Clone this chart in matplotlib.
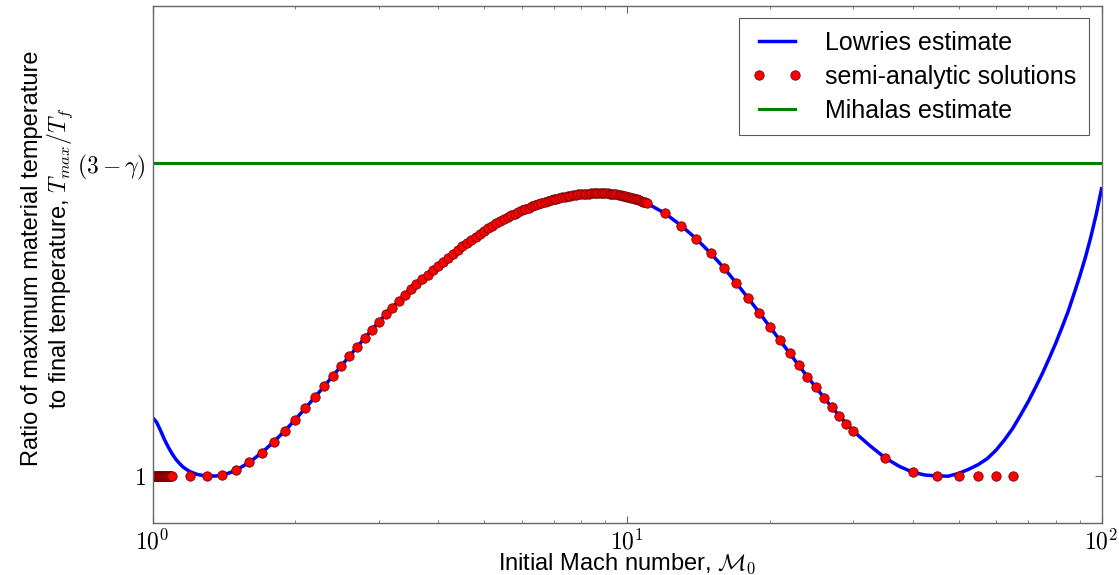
import matplotlib
matplotlib.use('Agg')
import matplotlib.pyplot as plt
from matplotlib.ticker import FixedLocator, FixedFormatter, LogLocator, NullFormatter

plt.rcParams['font.family'] = ['Liberation Sans', 'DejaVu Sans']
plt.rcParams['mathtext.fontset'] = 'cm'

gamma = 5.0 / 3.0

# Lowrie estimate of T_max / T_f against initial Mach number
mach_lowrie = [1.0, 1.02, 1.04, 1.06, 1.08, 1.10, 1.12, 1.14, 1.16, 1.18,
               1.20, 1.24, 1.28, 1.32, 1.36, 1.40, 1.45, 1.5, 1.6, 1.7,
               1.8, 1.9, 2.0, 2.2, 2.4, 2.6, 2.8, 3.0, 3.25, 3.5,
               3.75, 4.0, 4.5, 5.0, 5.5, 6.0, 6.5, 7.0, 7.5, 8.0,
               8.5, 9.0, 9.5, 10.0, 10.5, 11.0, 12, 13, 14, 15,
               16, 17, 18, 19, 20, 21, 22, 23, 24, 25,
               26, 27, 28, 29, 30, 32.5, 35, 37.5, 40, 42.5,
               45, 47.5, 50, 52.5, 55, 57.5, 60, 62.5, 65, 67.5,
               70, 72.5, 75, 77.5, 80, 82.5, 85, 87.5, 90, 92.5,
               95, 97.5, 100]
temp_lowrie = [1.0625, 1.0575, 1.0485, 1.0389, 1.0308, 1.0239, 1.0180, 1.0136, 1.0098, 1.0072,
               1.0049, 1.0021, 1.0007, 1.0002, 1.0003, 1.0014, 1.0035, 1.0065, 1.0148, 1.0252,
               1.0365, 1.0483, 1.0603, 1.0842, 1.1068, 1.1278, 1.1470, 1.1645, 1.1829, 1.1986,
               1.2121, 1.2237, 1.2445, 1.2609, 1.2734, 1.2827, 1.2896, 1.2945, 1.2979, 1.2999,
               1.3009, 1.3009, 1.2997, 1.2974, 1.2943, 1.2904, 1.2798, 1.2666, 1.2524, 1.2372,
               1.2216, 1.2053, 1.1894, 1.1740, 1.1588, 1.1447, 1.1309, 1.1181, 1.1056, 1.0947,
               1.0837, 1.0734, 1.0645, 1.0560, 1.0479, 1.0325, 1.0195, 1.0105, 1.0043, 1.0013,
               1.0004, 1.0001, 1.0030, 1.0075, 1.0125, 1.0190, 1.0280, 1.0390, 1.0510, 1.0650,
               1.0790, 1.0940, 1.1090, 1.1250, 1.1410, 1.1580, 1.1750, 1.1940, 1.2130, 1.2330,
               1.2550, 1.2790, 1.3056]

# semi-analytic solutions
mach_semi = [1.000, 1.005, 1.010, 1.015, 1.020, 1.025, 1.030, 1.035, 1.040, 1.045,
             1.050, 1.055, 1.060, 1.065, 1.070, 1.075, 1.080, 1.085, 1.090, 1.095,
             1.100,
             1.2, 1.3, 1.4, 1.5, 1.6, 1.7, 1.8, 1.9, 2.0, 2.1,
             2.2, 2.3, 2.4, 2.5, 2.6, 2.7, 2.8, 2.9, 3.0, 3.1,
             3.2, 3.3, 3.4, 3.5, 3.6, 3.7, 3.8, 3.9, 4.0, 4.1,
             4.2, 4.3, 4.4, 4.5, 4.6, 4.7, 4.8, 4.9, 5.0, 5.1,
             5.2, 5.3, 5.4, 5.5, 5.6, 5.7, 5.8, 5.9, 6.0, 6.1,
             6.2, 6.3, 6.4, 6.5, 6.6, 6.7, 6.8, 6.9, 7.0, 7.1,
             7.2, 7.3, 7.4, 7.5, 7.6, 7.7, 7.8, 7.9, 8.0, 8.1,
             8.2, 8.3, 8.4, 8.5, 8.6, 8.7, 8.8, 8.9, 9.0, 9.1,
             9.2, 9.3, 9.4, 9.5, 9.6, 9.7, 9.8, 9.9, 10.0, 10.1,
             10.2, 10.3, 10.4, 10.5, 10.6, 10.7, 10.8, 10.9, 11.0,
             12, 13, 14, 15, 16, 17, 18, 19, 20, 21,
             22, 23, 24, 25, 26, 27, 28, 29, 30,
             35, 40, 45, 50, 55, 60, 65]
temp_semi = [1.0, 1.0, 1.0, 1.0, 1.0, 1.0, 1.0, 1.0, 1.0, 1.0,
             1.0, 1.0, 1.0, 1.0, 1.0, 1.0, 1.0, 1.0, 1.0, 1.0,
             1.0,
             1.0000, 1.0004, 1.0015, 1.0065, 1.0148, 1.0252, 1.0365, 1.0483, 1.0603, 1.0724,
             1.0842, 1.0957, 1.1068, 1.1175, 1.1278, 1.1376, 1.1470, 1.1560, 1.1645, 1.1722,
             1.1794, 1.1862, 1.1926, 1.1986, 1.2042, 1.2095, 1.2145, 1.2192, 1.2237, 1.2281,
             1.2324, 1.2365, 1.2406, 1.2445, 1.2482, 1.2516, 1.2549, 1.2580, 1.2609, 1.2637,
             1.2663, 1.2688, 1.2712, 1.2734, 1.2755, 1.2774, 1.2793, 1.2811, 1.2827, 1.2843,
             1.2857, 1.2871, 1.2884, 1.2896, 1.2907, 1.2918, 1.2928, 1.2937, 1.2945, 1.2953,
             1.2961, 1.2967, 1.2973, 1.2979, 1.2984, 1.2989, 1.2993, 1.2996, 1.2999, 1.3002,
             1.3004, 1.3006, 1.3008, 1.3009, 1.3009, 1.3010, 1.3010, 1.3010, 1.3009, 1.3007,
             1.3005, 1.3003, 1.3000, 1.2997, 1.2993, 1.2989, 1.2984, 1.2980, 1.2974, 1.2969,
             1.2963, 1.2956, 1.2950, 1.2943, 1.2936, 1.2928, 1.2920, 1.2912, 1.2904,
             1.2798, 1.2666, 1.2524, 1.2372, 1.2216, 1.2053, 1.1894, 1.1740, 1.1588, 1.1447,
             1.1309, 1.1181, 1.1056, 1.0947, 1.0837, 1.0734, 1.0645, 1.0560, 1.0479,
             1.0195, 1.0043, 1.0004, 1.0, 1.0, 1.0, 1.0]

# Mihalas estimate: T_max / T_f = 3 - gamma
mihalas = 3.0 - gamma

x_ticks = [1, 10, 100]
x_ticklabels = [r'$10^{0}$', r'$10^{1}$', r'$10^{2}$']
y_ticks = [1.0, mihalas]
y_ticklabels = [r'$1$', r'$(3-\gamma)$']

fig = plt.figure(figsize=(11.19, 5.75), dpi=100)
ax = fig.add_axes([0.1363, 0.0899, 0.8481, 0.8997])

ax.plot(mach_lowrie, temp_lowrie, color='#0000ff', lw=2.5, label='Lowries estimate')
ax.plot(mach_semi, temp_semi, 'o', color='#ff0000', ms=6.8, mec='#550000', mew=0.5,
        label='semi-analytic solutions')
ax.axhline(mihalas, color='#008000', lw=2.2, label='Mihalas estimate')

ax.set_xscale('log')
ax.set_xlim(1, 100)
ax.set_ylim(0.95, 1.5)

ax.xaxis.set_major_locator(FixedLocator(x_ticks))
ax.xaxis.set_major_formatter(FixedFormatter(x_ticklabels))
ax.xaxis.set_minor_locator(LogLocator(base=10, subs=range(2, 10)))
ax.xaxis.set_minor_formatter(NullFormatter())
ax.yaxis.set_major_locator(FixedLocator(y_ticks))
ax.yaxis.set_major_formatter(FixedFormatter(y_ticklabels))

ax.tick_params(which='both', direction='in', top=True, right=True,
               color='0.4', labelsize=17)
ax.tick_params(which='major', length=5, width=0.8)
ax.tick_params(which='minor', length=2.5, width=0.6)
ax.tick_params(axis='x', pad=4)
ax.tick_params(axis='y', pad=5)
for s in ax.spines.values():
    s.set_color('0.4')
    s.set_linewidth(1.0)

ax.set_xlabel(r'Initial Mach number, $\mathcal{M}_0$', fontsize=17)
ax.xaxis.set_label_coords(0.5, -0.055)
ax.set_ylabel('Ratio of maximum material temperature\n'
              r'to final temperature, $T_{max}/T_f$', fontsize=17, linespacing=1.1)
ax.yaxis.set_label_coords(-0.082, 0.513)

leg = ax.legend(loc='upper right', numpoints=2, fontsize=18, fancybox=False,
                framealpha=1, edgecolor='0.35', handlelength=2.05, handletextpad=0.9,
                borderaxespad=0.5, borderpad=0.5, labelspacing=0.4)
leg.get_frame().set_linewidth(0.8)

fig.savefig('out.png', dpi=100, facecolor='white')
